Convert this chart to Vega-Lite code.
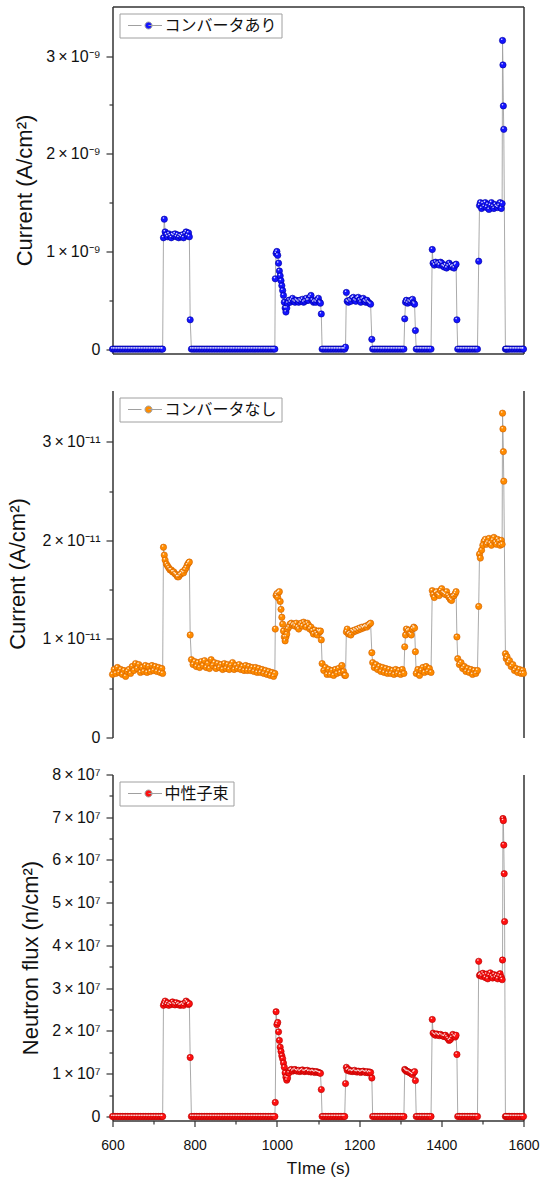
{
  "$schema": "https://vega.github.io/schema/vega-lite/v6.json",
  "padding": {"left": 6.5, "top": 6.5, "right": 0, "bottom": 0},
  "bounds": "flush",
  "spacing": 37,
  "config": {
    "font": "Liberation Sans",
    "view": {"stroke": null},
    "axis": {"domainColor": "#333333", "domainWidth": 1.5, "tickColor": "#333333", "tickWidth": 1.2, "labelColor": "#111111", "titleColor": "#111111", "grid": false, "labelFont": "Liberation Sans", "titleFont": "Liberation Sans", "titleFontWeight": "normal", "labelFlush": false, "labelOverlap": false, "labelBound": false},
    "legend": {"orient": "top-left", "offset": 7, "padding": 4, "strokeColor": "#a0a0a0", "strokeWidth": 1, "fillColor": "white", "cornerRadius": 0, "labelFont": "Noto Sans CJK JP", "labelFontSize": 16, "labelColor": "#111111", "labelOffset": 25, "labelLimit": 300, "symbolType": "M-1,0L2.86,0M4.86,0L8.71,0M4.86,-1A1,1,0,1,1,4.86,1A1,1,0,1,1,4.86,-1Z", "symbolSize": 49, "symbolStrokeColor": "#a0a0a0", "symbolStrokeWidth": 1, "symbolOpacity": 1}
  },
  "resolve": {"scale": {"x": "independent", "y": "independent", "color": "independent"}, "axis": {"x": "independent", "y": "independent"}, "legend": {"color": "independent"}},
  "data": {"values": [
    {"t":600,"a":0,"b":6.4e-12,"c":0},{"t":604,"a":0,"b":6.9e-12,"c":0},{"t":608,"a":0,"b":6.5e-12,"c":0},{"t":612,"a":0,"b":7.1e-12,"c":0},{"t":616,"a":0,"b":6.6e-12,"c":0},{"t":620,"a":0,"b":6.9e-12,"c":0},{"t":624,"a":0,"b":6.4e-12,"c":0},{"t":628,"a":0,"b":6.8e-12,"c":0},{"t":632,"a":0,"b":6.2e-12,"c":0},{"t":636,"a":0,"b":6.7e-12,"c":0},{"t":640,"a":0,"b":6.9e-12,"c":0},{"t":644,"a":0,"b":6.5e-12,"c":0},{"t":648,"a":0,"b":7.2e-12,"c":0},{"t":652,"a":0,"b":6.8e-12,"c":0},{"t":656,"a":0,"b":7.5e-12,"c":0},{"t":660,"a":0,"b":7.0e-12,"c":0},{"t":664,"a":0,"b":7.4e-12,"c":0},{"t":668,"a":0,"b":6.6e-12,"c":0},{"t":672,"a":0,"b":7.1e-12,"c":0},{"t":676,"a":0,"b":6.7e-12,"c":0},{"t":680,"a":0,"b":7.3e-12,"c":0},{"t":684,"a":0,"b":6.6e-12,"c":0},{"t":688,"a":0,"b":7.2e-12,"c":0},{"t":692,"a":0,"b":6.7e-12,"c":0},{"t":696,"a":0,"b":7.3e-12,"c":0},{"t":700,"a":0,"b":6.8e-12,"c":0},{"t":704,"a":0,"b":7.2e-12,"c":0},{"t":708,"a":0,"b":6.7e-12,"c":0},{"t":712,"a":0,"b":7.1e-12,"c":0},{"t":716,"a":0,"b":6.6e-12,"c":0},{"t":720,"a":0,"b":7.0e-12,"c":0},{"t":722,"a":0,"b":6.5e-12,"c":0},
    {"t":724,"a":1.14e-9,"b":1.93e-11,"c":2.60e7},{"t":726,"a":1.33e-9,"b":1.85e-11,"c":2.65e7},{"t":728,"a":1.20e-9,"b":1.80e-11,"c":2.70e7},{"t":731,"a":1.17e-9,"b":1.76e-11,"c":2.62e7},{"t":734,"a":1.15e-9,"b":1.74e-11,"c":2.66e7},{"t":737,"a":1.18e-9,"b":1.72e-11,"c":2.60e7},{"t":740,"a":1.16e-9,"b":1.70e-11,"c":2.64e7},{"t":743,"a":1.14e-9,"b":1.70e-11,"c":2.62e7},{"t":746,"a":1.17e-9,"b":1.68e-11,"c":2.68e7},{"t":749,"a":1.16e-9,"b":1.68e-11,"c":2.63e7},{"t":752,"a":1.18e-9,"b":1.66e-11,"c":2.61e7},{"t":755,"a":1.15e-9,"b":1.65e-11,"c":2.66e7},{"t":758,"a":1.17e-9,"b":1.63e-11,"c":2.62e7},{"t":761,"a":1.14e-9,"b":1.63e-11,"c":2.64e7},{"t":764,"a":1.16e-9,"b":1.65e-11,"c":2.60e7},{"t":767,"a":1.15e-9,"b":1.66e-11,"c":2.61e7},{"t":770,"a":1.17e-9,"b":1.68e-11,"c":2.63e7},{"t":773,"a":1.14e-9,"b":1.67e-11,"c":2.60e7},{"t":776,"a":1.18e-9,"b":1.70e-11,"c":2.65e7},{"t":779,"a":1.20e-9,"b":1.72e-11,"c":2.70e7},{"t":782,"a":1.16e-9,"b":1.75e-11,"c":2.67e7},{"t":785,"a":1.19e-9,"b":1.77e-11,"c":2.62e7},{"t":787,"a":1.15e-9,"b":1.78e-11,"c":2.64e7},{"t":789,"a":0.30e-9,"b":1.04e-11,"c":1.38e7},
    {"t":792,"a":0,"b":7.9e-12,"c":0},{"t":796,"a":0,"b":7.4e-12,"c":0},{"t":800,"a":0,"b":7.7e-12,"c":0},{"t":804,"a":0,"b":7.2e-12,"c":0},{"t":808,"a":0,"b":7.6e-12,"c":0},{"t":812,"a":0,"b":7.1e-12,"c":0},{"t":816,"a":0,"b":7.7e-12,"c":0},{"t":820,"a":0,"b":7.3e-12,"c":0},{"t":824,"a":0,"b":7.8e-12,"c":0},{"t":828,"a":0,"b":7.1e-12,"c":0},{"t":832,"a":0,"b":7.5e-12,"c":0},{"t":836,"a":0,"b":7.0e-12,"c":0},{"t":840,"a":0,"b":7.9e-12,"c":0},{"t":844,"a":0,"b":7.3e-12,"c":0},{"t":848,"a":0,"b":7.6e-12,"c":0},{"t":852,"a":0,"b":7.0e-12,"c":0},{"t":856,"a":0,"b":7.5e-12,"c":0},{"t":860,"a":0,"b":7.1e-12,"c":0},{"t":864,"a":0,"b":7.4e-12,"c":0},{"t":868,"a":0,"b":6.9e-12,"c":0},{"t":872,"a":0,"b":7.5e-12,"c":0},{"t":876,"a":0,"b":7.0e-12,"c":0},{"t":880,"a":0,"b":7.4e-12,"c":0},{"t":884,"a":0,"b":6.9e-12,"c":0},{"t":888,"a":0,"b":7.3e-12,"c":0},{"t":892,"a":0,"b":7.6e-12,"c":0},{"t":896,"a":0,"b":6.9e-12,"c":0},{"t":900,"a":0,"b":7.3e-12,"c":0},{"t":904,"a":0,"b":7.0e-12,"c":0},{"t":908,"a":0,"b":7.4e-12,"c":0},{"t":912,"a":0,"b":6.9e-12,"c":0},{"t":916,"a":0,"b":7.2e-12,"c":0},{"t":920,"a":0,"b":6.8e-12,"c":0},{"t":924,"a":0,"b":7.3e-12,"c":0},{"t":928,"a":0,"b":6.8e-12,"c":0},{"t":932,"a":0,"b":7.2e-12,"c":0},{"t":936,"a":0,"b":6.8e-12,"c":0},{"t":940,"a":0,"b":7.1e-12,"c":0},{"t":944,"a":0,"b":6.7e-12,"c":0},{"t":948,"a":0,"b":7.1e-12,"c":0},{"t":952,"a":0,"b":6.6e-12,"c":0},{"t":956,"a":0,"b":7.0e-12,"c":0},{"t":960,"a":0,"b":6.6e-12,"c":0},{"t":964,"a":0,"b":6.9e-12,"c":0},{"t":968,"a":0,"b":6.5e-12,"c":0},{"t":972,"a":0,"b":6.8e-12,"c":0},{"t":976,"a":0,"b":6.4e-12,"c":0},{"t":980,"a":0,"b":6.7e-12,"c":0},{"t":984,"a":0,"b":6.3e-12,"c":0},{"t":988,"a":0,"b":6.6e-12,"c":0},{"t":992,"a":0,"b":6.2e-12,"c":0},{"t":995,"a":0,"b":6.5e-12,"c":0},
    {"t":996,"a":0.72e-9,"b":1.10e-11,"c":0.33e7},{"t":998,"a":0.98e-9,"b":1.44e-11,"c":2.45e7},{"t":1000,"a":1.00e-9,"b":1.46e-11,"c":2.15e7},{"t":1002,"a":0.96e-9,"b":1.42e-11,"c":2.20e7},{"t":1004,"a":0.88e-9,"b":1.47e-11,"c":1.98e7},{"t":1006,"a":0.80e-9,"b":1.48e-11,"c":1.78e7},{"t":1008,"a":0.75e-9,"b":1.38e-11,"c":1.62e7},{"t":1010,"a":0.70e-9,"b":1.30e-11,"c":1.52e7},{"t":1012,"a":0.65e-9,"b":1.22e-11,"c":1.42e7},{"t":1014,"a":0.60e-9,"b":1.15e-11,"c":1.35e7},{"t":1016,"a":0.55e-9,"b":1.08e-11,"c":1.25e7},{"t":1018,"a":0.48e-9,"b":1.02e-11,"c":1.15e7},{"t":1020,"a":0.42e-9,"b":0.98e-11,"c":1.02e7},{"t":1022,"a":0.38e-9,"b":1.02e-11,"c":0.92e7},{"t":1024,"a":0.42e-9,"b":1.05e-11,"c":0.85e7},{"t":1026,"a":0.47e-9,"b":1.10e-11,"c":0.90e7},{"t":1029,"a":0.50e-9,"b":1.12e-11,"c":1.02e7},{"t":1032,"a":0.48e-9,"b":1.15e-11,"c":1.08e7},{"t":1035,"a":0.50e-9,"b":1.16e-11,"c":1.10e7},{"t":1038,"a":0.52e-9,"b":1.14e-11,"c":1.06e7},{"t":1041,"a":0.49e-9,"b":1.15e-11,"c":1.08e7},{"t":1044,"a":0.48e-9,"b":1.13e-11,"c":1.10e7},{"t":1047,"a":0.50e-9,"b":1.16e-11,"c":1.07e7},{"t":1050,"a":0.49e-9,"b":1.12e-11,"c":1.06e7},{"t":1053,"a":0.48e-9,"b":1.10e-11,"c":1.08e7},{"t":1056,"a":0.50e-9,"b":1.14e-11,"c":1.05e7},{"t":1059,"a":0.49e-9,"b":1.16e-11,"c":1.07e7},{"t":1062,"a":0.51e-9,"b":1.13e-11,"c":1.09e7},{"t":1065,"a":0.48e-9,"b":1.17e-11,"c":1.06e7},{"t":1068,"a":0.49e-9,"b":1.15e-11,"c":1.05e7},{"t":1071,"a":0.52e-9,"b":1.12e-11,"c":1.07e7},{"t":1074,"a":0.50e-9,"b":1.16e-11,"c":1.08e7},{"t":1077,"a":0.50e-9,"b":1.14e-11,"c":1.05e7},{"t":1080,"a":0.53e-9,"b":1.10e-11,"c":1.06e7},{"t":1083,"a":0.55e-9,"b":1.12e-11,"c":1.04e7},{"t":1086,"a":0.50e-9,"b":1.08e-11,"c":1.06e7},{"t":1089,"a":0.48e-9,"b":1.05e-11,"c":1.05e7},{"t":1092,"a":0.49e-9,"b":1.09e-11,"c":1.03e7},{"t":1095,"a":0.48e-9,"b":1.06e-11,"c":1.05e7},{"t":1098,"a":0.50e-9,"b":1.04e-11,"c":1.04e7},{"t":1101,"a":0.52e-9,"b":1.08e-11,"c":1.03e7},{"t":1104,"a":0.48e-9,"b":1.07e-11,"c":1.02e7},{"t":1106,"a":0.47e-9,"b":1.08e-11,"c":1.01e7},{"t":1108,"a":0.36e-9,"b":0.99e-11,"c":0.63e7},
    {"t":1110,"a":0,"b":7.5e-12,"c":0},{"t":1114,"a":0,"b":6.8e-12,"c":0},{"t":1118,"a":0,"b":7.1e-12,"c":0},{"t":1122,"a":0,"b":6.4e-12,"c":0},{"t":1126,"a":0,"b":6.9e-12,"c":0},{"t":1130,"a":0,"b":6.4e-12,"c":0},{"t":1134,"a":0,"b":6.8e-12,"c":0},{"t":1138,"a":0,"b":6.3e-12,"c":0},{"t":1142,"a":0,"b":6.9e-12,"c":0},{"t":1146,"a":0,"b":6.5e-12,"c":0},{"t":1150,"a":0,"b":7.0e-12,"c":0},{"t":1154,"a":0,"b":6.6e-12,"c":0},{"t":1158,"a":0,"b":7.3e-12,"c":0},{"t":1162,"a":0,"b":6.7e-12,"c":0},{"t":1165,"a":0,"b":6.3e-12,"c":0},
    {"t":1167,"a":0.02e-9,"b":0.63e-11,"c":0.77e7},{"t":1169,"a":0.58e-9,"b":1.07e-11,"c":1.15e7},{"t":1171,"a":0.49e-9,"b":1.10e-11,"c":1.08e7},{"t":1174,"a":0.48e-9,"b":1.05e-11,"c":1.10e7},{"t":1177,"a":0.50e-9,"b":1.06e-11,"c":1.06e7},{"t":1180,"a":0.49e-9,"b":1.04e-11,"c":1.07e7},{"t":1183,"a":0.52e-9,"b":1.08e-11,"c":1.05e7},{"t":1186,"a":0.53e-9,"b":1.07e-11,"c":1.06e7},{"t":1189,"a":0.50e-9,"b":1.09e-11,"c":1.08e7},{"t":1192,"a":0.49e-9,"b":1.08e-11,"c":1.05e7},{"t":1195,"a":0.52e-9,"b":1.10e-11,"c":1.04e7},{"t":1198,"a":0.53e-9,"b":1.09e-11,"c":1.06e7},{"t":1201,"a":0.50e-9,"b":1.11e-11,"c":1.05e7},{"t":1204,"a":0.48e-9,"b":1.10e-11,"c":1.03e7},{"t":1207,"a":0.51e-9,"b":1.12e-11,"c":1.05e7},{"t":1210,"a":0.52e-9,"b":1.11e-11,"c":1.06e7},{"t":1213,"a":0.49e-9,"b":1.12e-11,"c":1.04e7},{"t":1216,"a":0.48e-9,"b":1.13e-11,"c":1.03e7},{"t":1219,"a":0.50e-9,"b":1.12e-11,"c":1.05e7},{"t":1222,"a":0.48e-9,"b":1.14e-11,"c":1.02e7},{"t":1225,"a":0.47e-9,"b":1.15e-11,"c":1.04e7},{"t":1228,"a":0.46e-9,"b":1.16e-11,"c":1.03e7},{"t":1231,"a":0.10e-9,"b":0.86e-11,"c":0.90e7},
    {"t":1233,"a":0,"b":7.6e-12,"c":0},{"t":1237,"a":0,"b":7.1e-12,"c":0},{"t":1241,"a":0,"b":7.4e-12,"c":0},{"t":1245,"a":0,"b":6.9e-12,"c":0},{"t":1249,"a":0,"b":7.2e-12,"c":0},{"t":1253,"a":0,"b":6.7e-12,"c":0},{"t":1257,"a":0,"b":7.1e-12,"c":0},{"t":1261,"a":0,"b":6.6e-12,"c":0},{"t":1265,"a":0,"b":7.0e-12,"c":0},{"t":1269,"a":0,"b":6.5e-12,"c":0},{"t":1273,"a":0,"b":6.9e-12,"c":0},{"t":1277,"a":0,"b":6.5e-12,"c":0},{"t":1281,"a":0,"b":6.8e-12,"c":0},{"t":1285,"a":0,"b":6.4e-12,"c":0},{"t":1289,"a":0,"b":6.9e-12,"c":0},{"t":1293,"a":0,"b":6.5e-12,"c":0},{"t":1297,"a":0,"b":6.8e-12,"c":0},{"t":1301,"a":0,"b":6.4e-12,"c":0},{"t":1305,"a":0,"b":6.9e-12,"c":0},{"t":1309,"a":0,"b":6.5e-12,"c":0},
    {"t":1311,"a":0.31e-9,"b":0.92e-11,"c":1.10e7},{"t":1313,"a":0.48e-9,"b":1.04e-11,"c":1.08e7},{"t":1315,"a":0.50e-9,"b":1.10e-11,"c":1.06e7},{"t":1318,"a":0.47e-9,"b":1.08e-11,"c":1.05e7},{"t":1321,"a":0.49e-9,"b":1.09e-11,"c":1.04e7},{"t":1324,"a":0.48e-9,"b":1.05e-11,"c":1.02e7},{"t":1327,"a":0.50e-9,"b":1.04e-11,"c":1.00e7},{"t":1330,"a":0.51e-9,"b":1.10e-11,"c":0.98e7},{"t":1333,"a":0.47e-9,"b":1.12e-11,"c":1.03e7},{"t":1335,"a":0.46e-9,"b":1.11e-11,"c":1.05e7},{"t":1337,"a":0.19e-9,"b":0.87e-11,"c":0.84e7},
    {"t":1339,"a":0,"b":6.5e-12,"c":0},{"t":1343,"a":0,"b":6.9e-12,"c":0},{"t":1347,"a":0,"b":6.3e-12,"c":0},{"t":1351,"a":0,"b":6.8e-12,"c":0},{"t":1355,"a":0,"b":7.1e-12,"c":0},{"t":1359,"a":0,"b":6.6e-12,"c":0},{"t":1363,"a":0,"b":7.2e-12,"c":0},{"t":1367,"a":0,"b":6.7e-12,"c":0},{"t":1371,"a":0,"b":7.0e-12,"c":0},{"t":1375,"a":0,"b":6.6e-12,"c":0},
    {"t":1378,"a":1.02e-9,"b":1.49e-11,"c":2.27e7},{"t":1380,"a":0.88e-9,"b":1.45e-11,"c":1.95e7},{"t":1383,"a":0.86e-9,"b":1.42e-11,"c":1.92e7},{"t":1386,"a":0.89e-9,"b":1.47e-11,"c":1.90e7},{"t":1389,"a":0.87e-9,"b":1.48e-11,"c":1.93e7},{"t":1392,"a":0.88e-9,"b":1.45e-11,"c":1.91e7},{"t":1395,"a":0.86e-9,"b":1.44e-11,"c":1.89e7},{"t":1398,"a":0.89e-9,"b":1.49e-11,"c":1.92e7},{"t":1401,"a":0.88e-9,"b":1.51e-11,"c":1.90e7},{"t":1404,"a":0.85e-9,"b":1.47e-11,"c":1.88e7},{"t":1407,"a":0.84e-9,"b":1.46e-11,"c":1.87e7},{"t":1410,"a":0.86e-9,"b":1.45e-11,"c":1.90e7},{"t":1413,"a":0.83e-9,"b":1.48e-11,"c":1.86e7},{"t":1416,"a":0.85e-9,"b":1.44e-11,"c":1.82e7},{"t":1419,"a":0.88e-9,"b":1.42e-11,"c":1.78e7},{"t":1422,"a":0.86e-9,"b":1.40e-11,"c":1.80e7},{"t":1425,"a":0.84e-9,"b":1.39e-11,"c":1.85e7},{"t":1428,"a":0.85e-9,"b":1.43e-11,"c":1.92e7},{"t":1431,"a":0.83e-9,"b":1.44e-11,"c":1.88e7},{"t":1434,"a":0.86e-9,"b":1.46e-11,"c":1.86e7},{"t":1436,"a":0.87e-9,"b":1.48e-11,"c":1.90e7},{"t":1438,"a":0.30e-9,"b":1.02e-11,"c":1.45e7},
    {"t":1440,"a":0,"b":8.0e-12,"c":0},{"t":1444,"a":0,"b":7.4e-12,"c":0},{"t":1448,"a":0,"b":7.6e-12,"c":0},{"t":1452,"a":0,"b":7.0e-12,"c":0},{"t":1456,"a":0,"b":7.2e-12,"c":0},{"t":1460,"a":0,"b":6.7e-12,"c":0},{"t":1464,"a":0,"b":7.0e-12,"c":0},{"t":1468,"a":0,"b":6.6e-12,"c":0},{"t":1472,"a":0,"b":6.9e-12,"c":0},{"t":1476,"a":0,"b":6.4e-12,"c":0},{"t":1480,"a":0,"b":6.8e-12,"c":0},{"t":1484,"a":0,"b":6.5e-12,"c":0},{"t":1488,"a":0,"b":6.8e-12,"c":0},
    {"t":1491,"a":0.90e-9,"b":1.33e-11,"c":3.63e7},{"t":1493,"a":1.47e-9,"b":1.86e-11,"c":3.30e7},{"t":1495,"a":1.50e-9,"b":1.82e-11,"c":3.32e7},{"t":1498,"a":1.44e-9,"b":1.90e-11,"c":3.28e7},{"t":1501,"a":1.49e-9,"b":1.95e-11,"c":3.35e7},{"t":1504,"a":1.46e-9,"b":1.99e-11,"c":3.31e7},{"t":1507,"a":1.50e-9,"b":2.01e-11,"c":3.25e7},{"t":1510,"a":1.45e-9,"b":1.96e-11,"c":3.33e7},{"t":1513,"a":1.48e-9,"b":1.98e-11,"c":3.22e7},{"t":1516,"a":1.43e-9,"b":2.02e-11,"c":3.30e7},{"t":1519,"a":1.47e-9,"b":1.97e-11,"c":3.36e7},{"t":1522,"a":1.50e-9,"b":1.95e-11,"c":3.28e7},{"t":1525,"a":1.46e-9,"b":2.00e-11,"c":3.24e7},{"t":1528,"a":1.44e-9,"b":2.03e-11,"c":3.32e7},{"t":1531,"a":1.48e-9,"b":1.98e-11,"c":3.26e7},{"t":1534,"a":1.46e-9,"b":1.96e-11,"c":3.30e7},{"t":1537,"a":1.45e-9,"b":2.01e-11,"c":3.22e7},{"t":1540,"a":1.47e-9,"b":1.99e-11,"c":3.28e7},{"t":1543,"a":1.50e-9,"b":1.95e-11,"c":3.34e7},{"t":1546,"a":1.44e-9,"b":2.00e-11,"c":3.26e7},{"t":1548,"a":1.49e-9,"b":1.96e-11,"c":3.20e7},
    {"t":1549,"a":3.16e-9,"b":3.29e-11,"c":3.66e7},{"t":1550,"a":2.91e-9,"b":3.13e-11,"c":6.97e7},{"t":1551,"a":2.49e-9,"b":2.90e-11,"c":6.92e7},{"t":1552,"a":2.25e-9,"b":2.60e-11,"c":6.35e7},{"t":1553,"a":null,"b":null,"c":5.68e7},{"t":1554,"a":null,"b":null,"c":4.56e7},
    {"t":1556,"a":0,"b":8.5e-12,"c":0},{"t":1558,"a":0,"b":8.0e-12,"c":0},{"t":1560,"a":0,"b":8.2e-12,"c":0},{"t":1563,"a":0,"b":7.6e-12,"c":0},{"t":1566,"a":0,"b":7.8e-12,"c":0},{"t":1570,"a":0,"b":7.2e-12,"c":0},{"t":1574,"a":0,"b":7.4e-12,"c":0},{"t":1578,"a":0,"b":6.8e-12,"c":0},{"t":1582,"a":0,"b":7.0e-12,"c":0},{"t":1586,"a":0,"b":6.6e-12,"c":0},{"t":1590,"a":0,"b":6.9e-12,"c":0},{"t":1594,"a":0,"b":6.5e-12,"c":0},{"t":1598,"a":0,"b":6.8e-12,"c":0},{"t":1600,"a":0,"b":6.5e-12,"c":0}
  ]},
  "vconcat": [
    {
      "width": 411, "height": 347,
      "transform": [{"filter": "isValid(datum.a)"}],
      "layer": [
        {"mark": {"type": "line", "color": "#a0a0a0", "strokeWidth": 0.9},
         "encoding": {
           "x": {"field": "t", "type": "quantitative", "scale": {"domain": [600, 1600], "nice": false, "zero": false}, "axis": {"orient": "bottom", "labels": false, "ticks": false, "title": null}},
           "y": {"field": "a", "type": "quantitative", "scale": {"domain": [-4.5e-11, 3.508e-9], "nice": false, "zero": false},
                 "axis": {"orient": "left", "values": [0, 5e-10, 1e-9, 1.5e-9, 2e-9, 2.5e-9, 3e-9],
                          "labelExpr": "abs(datum.value/1e-9-round(datum.value/1e-9))>0.01 ? '' : (datum.value==0 ? '0' : round(datum.value/1e-9)+'\u2009×\u200910⁻⁹')",
                          "tickSize": {"condition": {"test": "abs(datum.value/1e-9-round(datum.value/1e-9))<0.01", "value": 6.5}, "value": 3.5},
                          "labelPadding": 6, "labelFontSize": 16, "title": "Current (A/cm²)", "titleFontSize": 22, "titleAngle": -90, "titleAlign": "center", "titleBaseline": "alphabetic", "titleX": -81, "titleY": 183.5}}
         }},
        {"mark": {"type": "point", "filled": true, "size": 40, "opacity": 1, "stroke": "#0000a0", "strokeWidth": 0.6},
         "encoding": {
           "x": {"field": "t", "type": "quantitative", "scale": {"domain": [600, 1600], "nice": false, "zero": false}, "axis": null},
           "y": {"field": "a", "type": "quantitative", "scale": {"domain": [-4.5e-11, 3.508e-9], "nice": false, "zero": false}, "axis": null},
           "color": {"datum": "コンバータあり", "type": "nominal", "scale": {"domain": ["コンバータあり"], "range": ["#1414ff"]}, "legend": {"title": null}}
         }},
        {"mark": {"type": "point", "filled": true, "size": 2.5, "color": "white", "opacity": 0.85, "xOffset": -0.8, "yOffset": -1.2},
         "encoding": {
           "x": {"field": "t", "type": "quantitative", "scale": {"domain": [600, 1600], "nice": false, "zero": false}, "axis": null},
           "y": {"field": "a", "type": "quantitative", "scale": {"domain": [-4.5e-11, 3.508e-9], "nice": false, "zero": false}, "axis": null}
         }},
        {"mark": {"type": "point", "opacity": 0},
         "encoding": {
           "x": {"field": "t", "type": "quantitative", "scale": {"domain": [600, 1600], "nice": false, "zero": false}, "axis": {"orient": "top", "labels": false, "ticks": false, "title": null}},
           "y": {"field": "a", "type": "quantitative", "scale": {"domain": [-4.5e-11, 3.508e-9], "nice": false, "zero": false}, "axis": {"orient": "right", "labels": false, "ticks": false, "title": null}}
         }}
      ]
    },
    {
      "width": 411, "height": 347,
      "transform": [{"filter": "isValid(datum.b)"}],
      "layer": [
        {"mark": {"type": "line", "color": "#a0a0a0", "strokeWidth": 0.9},
         "encoding": {
           "x": {"field": "t", "type": "quantitative", "scale": {"domain": [600, 1600], "nice": false, "zero": false}, "axis": {"orient": "bottom", "labels": false, "ticks": false, "title": null}},
           "y": {"field": "b", "type": "quantitative", "scale": {"domain": [0, 3.52e-11], "nice": false, "zero": false},
                 "axis": {"orient": "left", "values": [0, 5e-12, 1e-11, 1.5e-11, 2e-11, 2.5e-11, 3e-11],
                          "labelExpr": "abs(datum.value/1e-11-round(datum.value/1e-11))>0.01 ? '' : (datum.value==0 ? '0' : round(datum.value/1e-11)+'\u2009×\u200910⁻¹¹')",
                          "tickSize": {"condition": {"test": "abs(datum.value/1e-11-round(datum.value/1e-11))<0.01", "value": 6.5}, "value": 3.5},
                          "labelPadding": 6, "labelFontSize": 16, "title": "Current (A/cm²)", "titleFontSize": 22, "titleAngle": -90, "titleAlign": "center", "titleBaseline": "alphabetic", "titleX": -88, "titleY": 183}}
         }},
        {"mark": {"type": "point", "filled": true, "size": 40, "opacity": 1, "stroke": "#d06000", "strokeWidth": 0.6},
         "encoding": {
           "x": {"field": "t", "type": "quantitative", "scale": {"domain": [600, 1600], "nice": false, "zero": false}, "axis": null},
           "y": {"field": "b", "type": "quantitative", "scale": {"domain": [0, 3.52e-11], "nice": false, "zero": false}, "axis": null},
           "color": {"datum": "コンバータなし", "type": "nominal", "scale": {"domain": ["コンバータなし"], "range": ["#ff8c00"]}, "legend": {"title": null}}
         }},
        {"mark": {"type": "point", "filled": true, "size": 2.5, "color": "white", "opacity": 0.85, "xOffset": -0.8, "yOffset": -1.2},
         "encoding": {
           "x": {"field": "t", "type": "quantitative", "scale": {"domain": [600, 1600], "nice": false, "zero": false}, "axis": null},
           "y": {"field": "b", "type": "quantitative", "scale": {"domain": [0, 3.52e-11], "nice": false, "zero": false}, "axis": null}
         }},
        {"mark": {"type": "point", "opacity": 0},
         "encoding": {
           "x": {"field": "t", "type": "quantitative", "scale": {"domain": [600, 1600], "nice": false, "zero": false}, "axis": null},
           "y": {"field": "b", "type": "quantitative", "scale": {"domain": [0, 3.52e-11], "nice": false, "zero": false}, "axis": {"orient": "right", "labels": false, "ticks": false, "title": null}}
         }}
      ]
    },
    {
      "width": 411, "height": 346,
      "transform": [{"filter": "isValid(datum.c)"}],
      "layer": [
        {"mark": {"type": "line", "color": "#a0a0a0", "strokeWidth": 0.9},
         "encoding": {
           "x": {"field": "t", "type": "quantitative", "scale": {"domain": [600, 1600], "nice": false, "zero": false},
                 "axis": {"orient": "bottom", "values": [600, 800, 1000, 1200, 1400, 1600], "format": "d", "tickSize": 6,
                          "labelPadding": 12, "labelFontSize": 14, "title": "TIme (s)", "titleFontSize": 17, "titlePadding": 8}},
           "y": {"field": "c", "type": "quantitative", "scale": {"domain": [-9.4e5, 8e7], "nice": false, "zero": false},
                 "axis": {"orient": "left", "values": [0, 5e6, 1e7, 1.5e7, 2e7, 2.5e7, 3e7, 3.5e7, 4e7, 4.5e7, 5e7, 5.5e7, 6e7, 6.5e7, 7e7, 7.5e7, 8e7],
                          "labelExpr": "abs(datum.value/1e7-round(datum.value/1e7))>0.01 ? '' : (datum.value==0 ? '0' : round(datum.value/1e7)+'\u2009×\u200910⁷')",
                          "tickSize": {"condition": {"test": "abs(datum.value/1e7-round(datum.value/1e7))<0.01", "value": 6.5}, "value": 3.5},
                          "labelPadding": 6, "labelFontSize": 16, "title": "Neutron flux (n/cm²)", "titleFontSize": 22, "titleAngle": -90, "titleAlign": "center", "titleBaseline": "alphabetic", "titleX": -75, "titleY": 183}}
         }},
        {"mark": {"type": "point", "filled": true, "size": 40, "opacity": 1, "stroke": "#b00000", "strokeWidth": 0.6},
         "encoding": {
           "x": {"field": "t", "type": "quantitative", "scale": {"domain": [600, 1600], "nice": false, "zero": false}, "axis": null},
           "y": {"field": "c", "type": "quantitative", "scale": {"domain": [-9.4e5, 8e7], "nice": false, "zero": false}, "axis": null},
           "color": {"datum": "中性子束", "type": "nominal", "scale": {"domain": ["中性子束"], "range": ["#ff1010"]}, "legend": {"title": null}}
         }},
        {"mark": {"type": "point", "filled": true, "size": 2.5, "color": "white", "opacity": 0.85, "xOffset": -0.8, "yOffset": -1.2},
         "encoding": {
           "x": {"field": "t", "type": "quantitative", "scale": {"domain": [600, 1600], "nice": false, "zero": false}, "axis": null},
           "y": {"field": "c", "type": "quantitative", "scale": {"domain": [-9.4e5, 8e7], "nice": false, "zero": false}, "axis": null}
         }},
        {"mark": {"type": "point", "opacity": 0},
         "encoding": {
           "x": {"field": "t", "type": "quantitative", "scale": {"domain": [600, 1600], "nice": false, "zero": false},
                 "axis": {"orient": "top", "offset": -346, "values": [700, 900, 1100, 1300, 1500], "domain": false, "labels": false, "tickSize": -3.5, "title": null}},
           "y": {"field": "c", "type": "quantitative", "scale": {"domain": [-9.4e5, 8e7], "nice": false, "zero": false}, "axis": {"orient": "right", "labels": false, "ticks": false, "title": null}}
         }}
      ]
    }
  ]
}
